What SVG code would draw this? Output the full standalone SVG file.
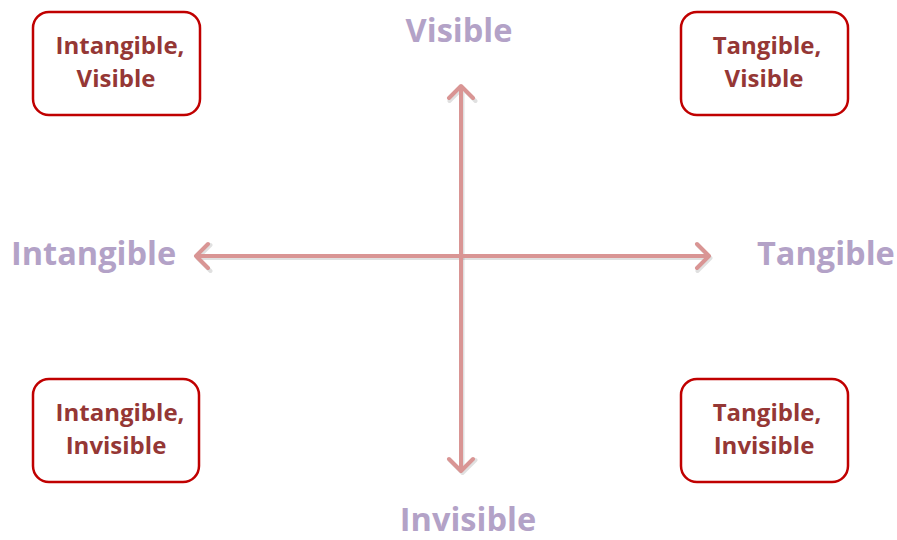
<svg xmlns="http://www.w3.org/2000/svg" width="897" height="540" viewBox="0 0 897 540">
<style>
.box rect{fill:#fff;stroke:#C00000;stroke-width:2.5}
.box text{font-family:"Open Sans",Lato,sans-serif;font-weight:bold;font-size:24px;fill:#953735;text-anchor:middle}
.axis{font-family:"Open Sans",Lato,sans-serif;font-weight:bold;font-size:32.5px;fill:#B3A2C7}
.ln{stroke:#D99594;stroke-width:4;fill:none;stroke-linecap:round;stroke-linejoin:round}
.sh{stroke:#000;stroke-opacity:0.12;stroke-width:4;fill:none;stroke-linecap:round;stroke-linejoin:round}
</style>
<rect width="897" height="540" fill="#fff"/>
<g id="connectors">
<g transform="translate(1.5,2)">
<path class="sh" d="M461 87V470M448 99L461 86L474 99M448 458L461 471L474 458"/>
<path class="sh" d="M197 256H708M209 243L196 256L209 269M696 243L709 256L696 269"/>
</g>
<path class="ln" d="M461 87V470M449 98L461 86L473 98M449 459L461 471L473 459"/>
<path class="ln" d="M197 256H708M208 244L196 256L208 268M697 244L709 256L697 268"/>
</g>
<g id="label-visible"><text class="axis" x="459" y="42" text-anchor="middle">Visible</text></g>
<g id="label-invisible"><text class="axis" x="468" y="531" text-anchor="middle">Invisible</text></g>
<g id="label-intangible"><text class="axis" x="11" y="265">Intangible</text></g>
<g id="label-tangible"><text class="axis" x="757" y="265">Tangible</text></g>
<g id="box-intangible-visible" class="box"><rect x="33" y="12" width="167" height="103" rx="16"/><text x="120" y="54">Intangible,</text><text x="116" y="87">Visible</text></g>
<g id="box-tangible-visible" class="box"><rect x="681" y="12" width="167" height="103" rx="16"/><text x="767" y="54">Tangible,</text><text x="764" y="87">Visible</text></g>
<g id="box-intangible-invisible" class="box"><rect x="33" y="379" width="166" height="103" rx="16"/><text x="120" y="421">Intangible,</text><text x="116" y="454">Invisible</text></g>
<g id="box-tangible-invisible" class="box"><rect x="681" y="379" width="167" height="103" rx="16"/><text x="767" y="421">Tangible,</text><text x="764" y="454">Invisible</text></g>
</svg>
